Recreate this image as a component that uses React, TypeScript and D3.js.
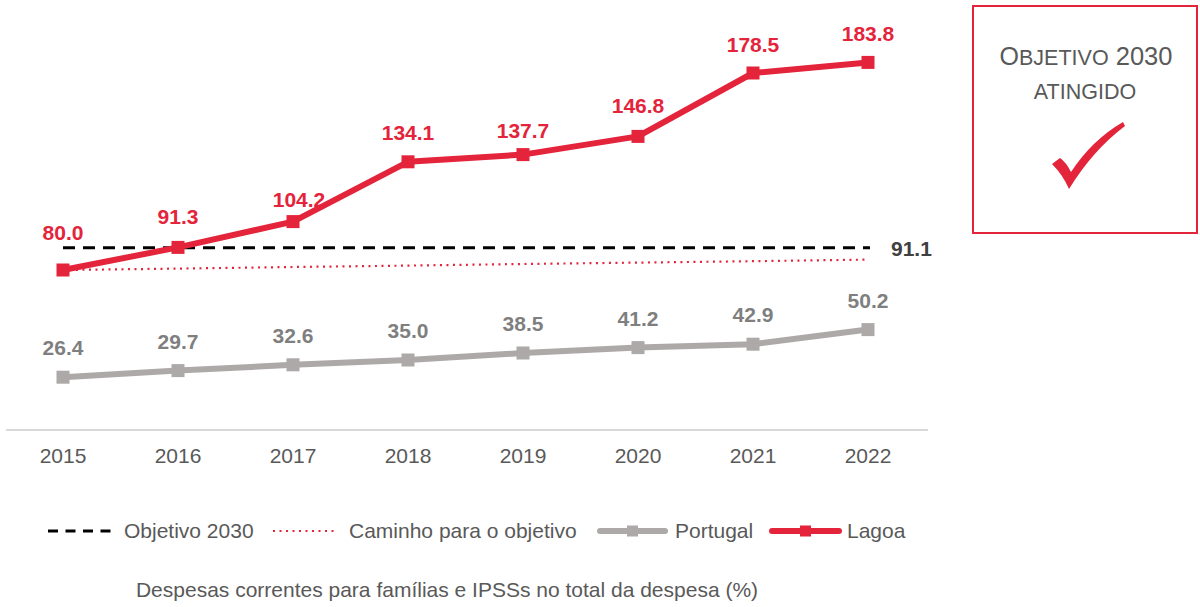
import React from "react";
import * as d3 from "d3";

const years = ["2015", "2016", "2017", "2018", "2019", "2020", "2021", "2022"];
const lagoa = [80.0, 91.3, 104.2, 134.1, 137.7, 146.8, 178.5, 183.8];
const portugal = [26.4, 29.7, 32.6, 35.0, 38.5, 41.2, 42.9, 50.2];
const caminho = [80.0, 80.7, 81.5, 82.2, 83.0, 83.7, 84.4, 85.2];
const objetivo = 91.1;
const lagoaLabelDy = [-30, -23, -15, -22, -17, -23, -21, -21];
const lagoaLabelDx = [0, 0, 6, 0, 0, 0, 0, 0];
const titleText = "Despesas correntes para famílias e IPSSs no total da despesa (%)";

const RED = "#E3243B";
const GRAY_LINE = "#ADA9A8";
const GRAY_LABEL = "#7F7F7F";
const TEXT = "#595959";
const FONT = "'Liberation Sans', Arial, Helvetica, sans-serif";
const FS = 21;

export default function App() {
  const x = d3.scalePoint<string>().domain(years).range([63, 868]);
  const y = d3.scaleLinear().domain([0, 200]).range([430, 30]);
  const line = d3
    .line<number>()
    .x((_, i) => x(years[i]) as number)
    .y((d) => y(d));

  const ms = 13;

  return (
    <svg
      width={1200}
      height={607}
      style={{ position: "absolute", left: 0, top: 0, background: "#fff" }}
      fontFamily={FONT}
    >
      {/* axis line */}
      <line x1={6} x2={928} y1={y(0)} y2={y(0)} stroke="#D9D9D9" strokeWidth={2} />
      {years.map((yr) => (
        <text key={yr} x={x(yr)} y={463} textAnchor="middle" fontSize={FS} fill={TEXT}>
          {yr}
        </text>
      ))}

      {/* objective dashed line */}
      <line
        x1={x(years[0])}
        x2={870}
        y1={y(objetivo)}
        y2={y(objetivo)}
        stroke="#000"
        strokeWidth={3}
        strokeDasharray="12 8"
      />
      <text x={891} y={256} fontSize={FS} fontWeight="bold" fill="#404040">
        {objetivo.toFixed(1)}
      </text>

      {/* path to objective dotted */}
      <path d={line(caminho) || ""} fill="none" stroke={RED} strokeWidth={2.2} strokeDasharray="2 4.5" />

      {/* Portugal */}
      <path d={line(portugal) || ""} fill="none" stroke={GRAY_LINE} strokeWidth={6} />
      {portugal.map((v, i) => (
        <rect
          key={"pm" + i}
          x={(x(years[i]) as number) - ms / 2}
          y={y(v) - ms / 2}
          width={ms}
          height={ms}
          fill={GRAY_LINE}
        />
      ))}
      {portugal.map((v, i) => (
        <text
          key={"pl" + i}
          x={x(years[i])}
          y={y(v) - 22}
          textAnchor="middle"
          fontSize={FS}
          fontWeight="bold"
          fill={GRAY_LABEL}
        >
          {v.toFixed(1)}
        </text>
      ))}

      {/* Lagoa */}
      <path d={line(lagoa) || ""} fill="none" stroke={RED} strokeWidth={6} strokeLinejoin="round" />
      {lagoa.map((v, i) => (
        <rect
          key={"lm" + i}
          x={(x(years[i]) as number) - ms / 2}
          y={y(v) - ms / 2}
          width={ms}
          height={ms}
          fill={RED}
        />
      ))}
      {lagoa.map((v, i) => (
        <text
          key={"ll" + i}
          x={(x(years[i]) as number) + lagoaLabelDx[i]}
          y={y(v) + lagoaLabelDy[i]}
          textAnchor="middle"
          fontSize={FS}
          fontWeight="bold"
          fill={RED}
        >
          {v.toFixed(1)}
        </text>
      ))}

      {/* Box */}
      <rect x={973} y={6} width={224} height={227} fill="none" stroke={RED} strokeWidth={2} />
      <text x={1086} y={65} textAnchor="middle" fill={TEXT}>
        <tspan fontSize={25}>O</tspan>
        <tspan fontSize={21.5}>BJETIVO</tspan>
        <tspan fontSize={25.5}> 2030</tspan>
      </text>
      <text x={1085} y={99} textAnchor="middle" fontSize={21.5} fill={TEXT}>
        ATINGIDO
      </text>
      <path
        d="M1052,164 L1060,158 Q1066,162 1071,172 Q1092,140 1123,122 L1125,126 Q1093,150 1069,189 Q1063,175 1052,164 Z"
        fill={RED}
      />

      {/* Legend */}
      <line x1={48} x2={113} y1={531} y2={531} stroke="#000" strokeWidth={3} strokeDasharray="10 7.5" />
      <text x={124} y={538} fontSize={FS} fill={TEXT}>Objetivo 2030</text>
      <line x1={273} x2={337} y1={531} y2={531} stroke={RED} strokeWidth={2.2} strokeDasharray="2 4.5" />
      <text x={349} y={538} fontSize={FS} fill={TEXT}>Caminho para o objetivo</text>
      <line x1={600} x2={665} y1={531} y2={531} stroke={GRAY_LINE} strokeWidth={6} strokeLinecap="round" />
      <rect x={627} y={525.5} width={11} height={11} fill={GRAY_LINE} />
      <text x={675} y={538} fontSize={FS} fill={TEXT}>Portugal</text>
      <line x1={772} x2={839} y1={531} y2={531} stroke={RED} strokeWidth={6} strokeLinecap="round" />
      <rect x={800} y={525.5} width={11} height={11} fill={RED} />
      <text x={847} y={538} fontSize={FS} fill={TEXT}>Lagoa</text>

      {/* Title */}
      <text x={447} y={597} textAnchor="middle" fontSize={FS} fill={TEXT}>
        {titleText}
      </text>
    </svg>
  );
}
